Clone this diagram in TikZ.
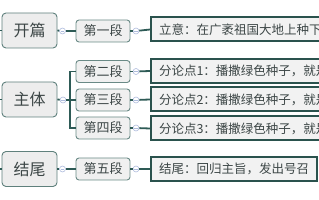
\documentclass[tikz,border=0pt]{standalone}
\usepackage{fontspec}
\setmainfont{Noto Sans CJK SC}
\definecolor{edgec}{HTML}{2E5B56}
\definecolor{rootfill}{HTML}{EDEDED}
\definecolor{rootline}{HTML}{5F807C}
\definecolor{midfill}{HTML}{F0F0F0}
\definecolor{midline}{HTML}{6A8A86}
\definecolor{rfill}{HTML}{F2F2F2}
\definecolor{rline}{HTML}{2A524D}
\definecolor{togline}{HTML}{AEBBDD}
\definecolor{txt}{HTML}{3C4646}
\begin{document}
\begin{tikzpicture}[x=1pt,y=-1pt,
  conn/.style={draw=edgec,line width=1.8pt},
  rootbox/.style={draw=rootline,fill=rootfill,rounded corners=4pt,line width=0.9pt,
    minimum width=55pt,minimum height=35pt,inner sep=0pt,text=txt,
    font=\fontsize{16}{16}\selectfont},
  midbox/.style={draw=midline,fill=midfill,rounded corners=3pt,line width=0.9pt,
    minimum width=54pt,minimum height=22pt,inner sep=0pt,text=txt,
    font=\fontsize{13}{13}\selectfont},
  rbox/.style={draw=rline,fill=rfill,line width=2pt,anchor=west,
    minimum height=24pt,inner xsep=8pt,inner ysep=0pt,align=left,text=txt,
    font=\fontsize{12.5}{12.5}\selectfont},
  tog/.style={circle,draw=togline,fill=white,line width=0.6pt,minimum size=6pt,inner sep=0pt,
    path picture={\draw[togline,line width=0.5pt] ([xshift=-1.8pt]path picture bounding box.center) -- ([xshift=1.8pt]path picture bounding box.center);}}
]
\useasboundingbox (0,0) rectangle (319,200);
\clip (0,0) rectangle (319,200);

% roots
\node[rootbox] (r1) at (29.5,30.5) {开篇};
\node[rootbox] (r2) at (29.5,99.5) {主体};
\node[rootbox] (r3) at (29.5,169) {结尾};

% middle
\node[midbox] (m1) at (103,31) {第一段};
\node[midbox] (m2) at (103,71.5) {第二段};
\node[midbox] (m3) at (103,100) {第三段};
\node[midbox] (m4) at (103,128) {第四段};
\node[midbox] (m5) at (103,169) {第五段};

% right
\node[rbox,text width=230pt] (b1) at (150,29.5) {立意：在广袤祖国大地上种下绿色希望};
\node[rbox,text width=230pt] (b2) at (150,71) {分论点1：播撒绿色种子，就是播撒希望};
\node[rbox,text width=230pt] (b3) at (150,99.5) {分论点2：播撒绿色种子，就是播撒未来};
\node[rbox,text width=230pt] (b4) at (150,128.5) {分论点3：播撒绿色种子，就是播撒责任};
\node[rbox,text width=150pt] (b5) at (150,169) {结尾：回归主旨，发出号召};

% toggles
\node[tog] (c1) at (62.5,31) {};
\node[tog] (c2) at (63,100) {};
\node[tog] (c3) at (62.5,169) {};
\node[tog] (d1) at (136,31) {};
\node[tog] (d2) at (136,71.5) {};
\node[tog] (d3) at (136,100) {};
\node[tog] (d4) at (136,128) {};
\node[tog] (d5) at (136,169) {};

% left stubs
\coordinate (l1) at (0,30.5);
\coordinate (l2) at (0,99.5);
\coordinate (l3) at (0,169);
\draw[conn] (l1) -- (r1.west);
\draw[conn] (l2) -- (r2.west);
\draw[conn] (l3) -- (r3.west);

% root -> middle
\draw[conn] (r1.east) -- (c1);
\draw[conn] (c1) -- (m1.west);
\draw[conn] (r3.east) -- (c3);
\draw[conn] (c3) -- (m5.west);
\draw[conn] (r2.east) -- (c2);
\coordinate (br) at (70,100);
\draw[conn] (c2) -- (br);
\draw[conn] (m2.west) -| (br);
\draw[conn] (m4.west) -| (br);
\draw[conn] (br) -- (m3.west);

% middle -> right
\draw[conn] (m1.east) -- (d1);
\draw[conn] (d1) -- (b1.west);
\draw[conn] (m2.east) -- (d2);
\draw[conn] (d2) -- (b2.west);
\draw[conn] (m3.east) -- (d3);
\draw[conn] (d3) -- (b3.west);
\draw[conn] (m4.east) -- (d4);
\draw[conn] (d4) -- (b4.west);
\draw[conn] (m5.east) -- (d5);
\draw[conn] (d5) -- (b5.west);
\end{tikzpicture}
\end{document}
